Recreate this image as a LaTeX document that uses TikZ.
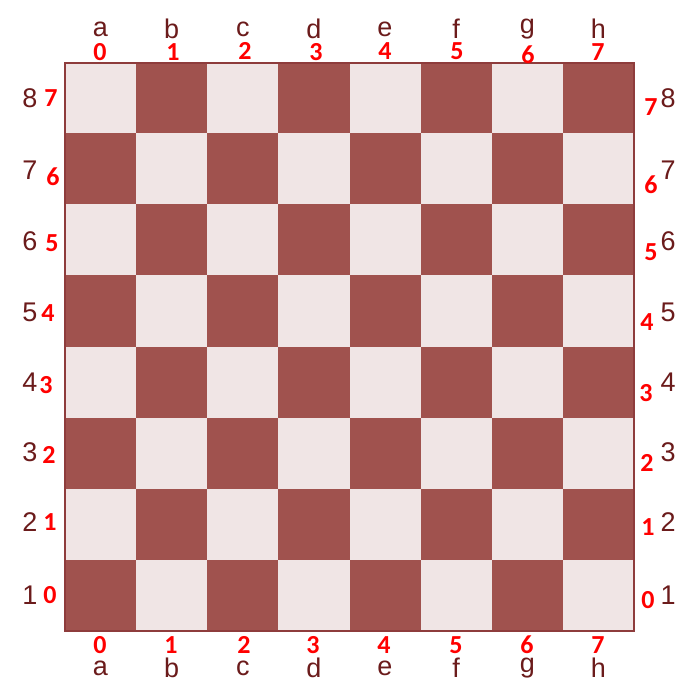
\documentclass[tikz,border=0pt]{standalone}
\usepackage{fontspec}
\setmainfont{Liberation Sans}
\newfontfamily\numfont{Carlito}
\definecolor{darksq}{HTML}{A0524E}
\definecolor{lightsq}{HTML}{F0E5E5}
\definecolor{lettercol}{HTML}{6B1B1B}
\definecolor{bordercol}{HTML}{8E3C3C}
\tikzset{
  coordlbl/.style={text=lettercol,inner sep=0pt,font=\fontsize{27}{27}\selectfont},
  idxlbl/.style={text=red,inner sep=0pt,font=\numfont\bfseries\fontsize{26}{26}\selectfont},
}
\begin{document}
\begin{tikzpicture}[x=1pt,y=-1pt]
\useasboundingbox (0,0) rectangle (700,700);
\fill[white] (0,0) rectangle (700,700);
\foreach \i in {0,...,7}{
  \foreach \j in {0,...,7}{
    \pgfmathtruncatemacro{\sqpar}{mod(\i+\j,2)}
    \ifnum\sqpar=0 \def\sqc{darksq}\else\def\sqc{lightsq}\fi
    \fill[\sqc] ({65+71.125*\i},{631-71.125*(\j+1)}) rectangle ({65+71.125*(\i+1)},{631-71.125*\j});
  }
}
\draw[bordercol,line width=1.3pt] (65,63) rectangle (634,631);
% column letters
\foreach \l [count=\k from 0] in {a,b,c,d,e,f,g,h}{
  \node[coordlbl] (top\l) at ({100.5+71.125*\k},29) {\l};
  \node[coordlbl] (bot\l) at ({100.5+71.125*\k},668) {\l};
}
% top indices
\foreach \x/\y [count=\k from 0] in {100/52,173/52,245/51,316/52,385/51,457/51,528/55,598/52}{
  \pgfmathtruncatemacro{\n}{\k}
  \node[idxlbl] (topi\n) at (\x,\y) {\n};
}
% bottom indices
\foreach \x [count=\k from 0] in {100,171,244,313,384,456,527,598}{
  \pgfmathtruncatemacro{\n}{\k}
  \node[idxlbl] (boti\n) at (\x,645) {\n};
}
% rank digits
\foreach \y [count=\k from 1] in {595,522,452,382,312,241,170,98}{
  \node[coordlbl] (left\k) at (30,\y) {\k};
  \node[coordlbl] (right\k) at (668,\y) {\k};
}
% left indices
\foreach \x/\y [count=\k from 0] in {50/595,50/522,49/455,46/385,48/313,52/243,53/177,51/98}{
  \pgfmathtruncatemacro{\n}{\k}
  \node[idxlbl] (lefti\n) at (\x,\y) {\n};
}
% right indices
\foreach \x/\y [count=\k from 0] in {648/600,648/527,647/463,646/393,647/322,651/252,651/185,651/107}{
  \pgfmathtruncatemacro{\n}{\k}
  \node[idxlbl] (righti\n) at (\x,\y) {\n};
}
\end{tikzpicture}
\end{document}
